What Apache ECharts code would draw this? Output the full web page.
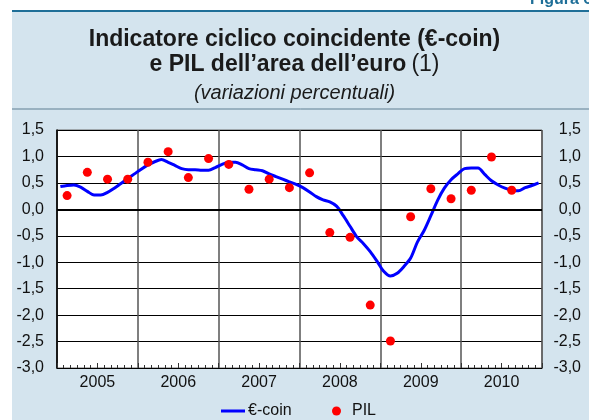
<!DOCTYPE html>
<html>
<head>
<meta charset="utf-8">
<script src="https://cdn.jsdelivr.net/npm/echarts@6/dist/echarts.min.js"></script>
<style>
  html, body { margin: 0; padding: 0; background: #ffffff; }
  #chart { width: 589px; height: 420px; }
</style>
</head>
<body>
<div id="chart"></div>
<script>
// years on the x axis (one block of 12 months each)
const years = ['2005', '2006', '2007', '2008', '2009', '2010'];

// €-coin, monthly, Jan 2005 - Dec 2010
const ecoin = [
  0.43, 0.45, 0.46, 0.42, 0.34, 0.27, 0.27, 0.32, 0.40, 0.49, 0.58, 0.67,
  0.76, 0.84, 0.90, 0.94, 0.89, 0.83, 0.77, 0.75, 0.75, 0.74, 0.74, 0.79,
  0.85, 0.89, 0.89, 0.84, 0.77, 0.75, 0.73, 0.67, 0.62, 0.57, 0.52, 0.47,
  0.41, 0.33, 0.24, 0.18, 0.14, 0.06, -0.12, -0.32, -0.52, -0.65, -0.80, -0.98,
  -1.17, -1.26, -1.21, -1.08, -0.92, -0.62, -0.40, -0.12, 0.17, 0.40, 0.56, 0.67,
  0.77, 0.78, 0.78, 0.66, 0.54, 0.46, 0.40, 0.36, 0.35, 0.41, 0.45, 0.50
];

// PIL, quarterly (Q4 2010 not yet available)
const pil = [
  0.26, 0.70, 0.57, 0.57,
  0.89, 1.09, 0.60, 0.96,
  0.85, 0.38, 0.57, 0.41,
  0.69, -0.44, -0.53, -1.81,
  -2.49, -0.14, 0.39, 0.20,
  0.36, 0.99, 0.36, null
];

const yMin = -3.0, yMax = 1.5, yStep = 0.5;

// x axis in months from Jan 2005; monthly points sit mid-month, quarters mid-quarter
const ecoinData = ecoin.map((v, i) => [i + 0.5, v]);
const pilData = pil.map((v, i) => [i * 3 + 1.5, v]).filter(d => d[1] !== null);

const fmt = v => v.toFixed(1).replace('.', ',');
const font = 'Liberation Sans, Arial, sans-serif';

const chart = echarts.init(document.getElementById('chart'));

const option = {
  animation: false,
  backgroundColor: '#ffffff',
  textStyle: { fontFamily: font },
  graphic: [
    { type: 'rect', shape: { x: 12, y: 11, width: 577, height: 409 }, style: { fill: '#d4e4ee' }, silent: true, z: -10 },
    { type: 'line', shape: { x1: 12, y1: 11, x2: 589, y2: 11 }, style: { stroke: '#1f6f98', lineWidth: 2 }, silent: true },
    { type: 'line', shape: { x1: 12, y1: 109, x2: 589, y2: 109 }, style: { stroke: '#5f7f92', lineWidth: 1 }, silent: true },
    { type: 'text', x: 530, y: -8, style: { text: 'Figura 6', fill: '#1f6f98', font: 'bold 16px ' + font }, silent: true }
  ],
  title: [
    {
      left: 'center', top: 22,
      text: '{b|Indicatore ciclico coincidente (€-coin)}\n{b|e PIL dell’area dell’euro} {n|(1)}',
      textStyle: {
        rich: {
          b: { fontSize: 23, fontWeight: 'bold', color: '#1a1a1a', fontFamily: font, lineHeight: 25 },
          n: { fontSize: 23, fontWeight: 'normal', color: '#1a1a1a', fontFamily: font, lineHeight: 25 }
        }
      }
    },
    {
      left: 'center', top: 78,
      text: '(variazioni percentuali)',
      textStyle: { fontSize: 20, fontStyle: 'italic', fontWeight: 'normal', color: '#1a1a1a', fontFamily: font }
    }
  ],
  grid: {
    left: 57, right: 47, top: 130, bottom: 52,
    show: true, backgroundColor: '#ffffff', borderColor: '#6a6a6a', borderWidth: 1
  },
  legend: [
    {
      data: [{ name: '€-coin', icon: 'rect' }], left: 216, top: 398,
      itemWidth: 24, itemHeight: 3, itemGap: 4,
      textStyle: { fontSize: 16, color: '#111', fontFamily: font, padding: [0, 0, 0, -2] }
    },
    {
      data: [{ name: 'PIL', icon: 'circle' }], left: 327, top: 398,
      itemWidth: 9, itemHeight: 9, itemGap: 4,
      textStyle: { fontSize: 16, color: '#111', fontFamily: font, padding: [0, 0, 0, 6] }
    }
  ],
  xAxis: [
    {
      type: 'value', min: 0, max: years.length * 12, interval: 6,
      axisLine: { show: true, onZero: false, lineStyle: { color: '#000', width: 1 } },
      axisTick: { show: true, inside: true, length: 5, lineStyle: { color: '#333' } },
      minorTick: { show: true, splitNumber: 6, length: 3, lineStyle: { color: '#333' } },
      splitLine: { show: false },
      axisLabel: {
        fontSize: 16, color: '#111', margin: 7, fontFamily: font,
        formatter: v => (v % 12 === 6 ? years[(v - 6) / 12] : '')
      }
    },
    {
      type: 'value', min: 0, max: years.length * 12, interval: 12, position: 'bottom',
      axisLine: { show: false }, axisTick: { show: false }, axisLabel: { show: false },
      splitLine: { show: true, lineStyle: { color: '#555', width: 1.5 } }
    }
  ],
  yAxis: [
    {
      type: 'value', min: yMin, max: yMax, interval: yStep, position: 'left',
      axisLine: { show: true, lineStyle: { color: '#000', width: 1.5 } },
      axisTick: { show: false },
      splitLine: { show: true, lineStyle: { color: '#000', width: 1 } },
      axisLabel: { fontSize: 16, color: '#111', margin: 13, fontFamily: font, formatter: fmt }
    },
    {
      type: 'value', min: yMin, max: yMax, interval: yStep, position: 'right',
      axisLine: { show: false }, axisTick: { show: false }, splitLine: { show: false },
      axisLabel: { fontSize: 16, color: '#111', margin: 39, align: 'right', fontFamily: font, formatter: fmt }
    }
  ],
  series: [
    {
      name: '€-coin', type: 'line', data: ecoinData, xAxisIndex: 0, yAxisIndex: 0,
      symbol: 'none', smooth: 0.3,
      lineStyle: { color: '#0000ff', width: 3 }, itemStyle: { color: '#0000ff' },
      z: 3,
      markLine: {
        silent: true, symbol: 'none', label: { show: false },
        lineStyle: { color: '#000', width: 2, type: 'solid' },
        data: [{ yAxis: 0 }]
      }
    },
    {
      name: 'PIL', type: 'scatter', data: pilData, xAxisIndex: 0, yAxisIndex: 0,
      symbol: 'circle', symbolSize: 9,
      itemStyle: { color: '#ff0000', opacity: 1 },
      z: 4
    }
  ]
};

chart.setOption(option);
</script>
</body>
</html>
